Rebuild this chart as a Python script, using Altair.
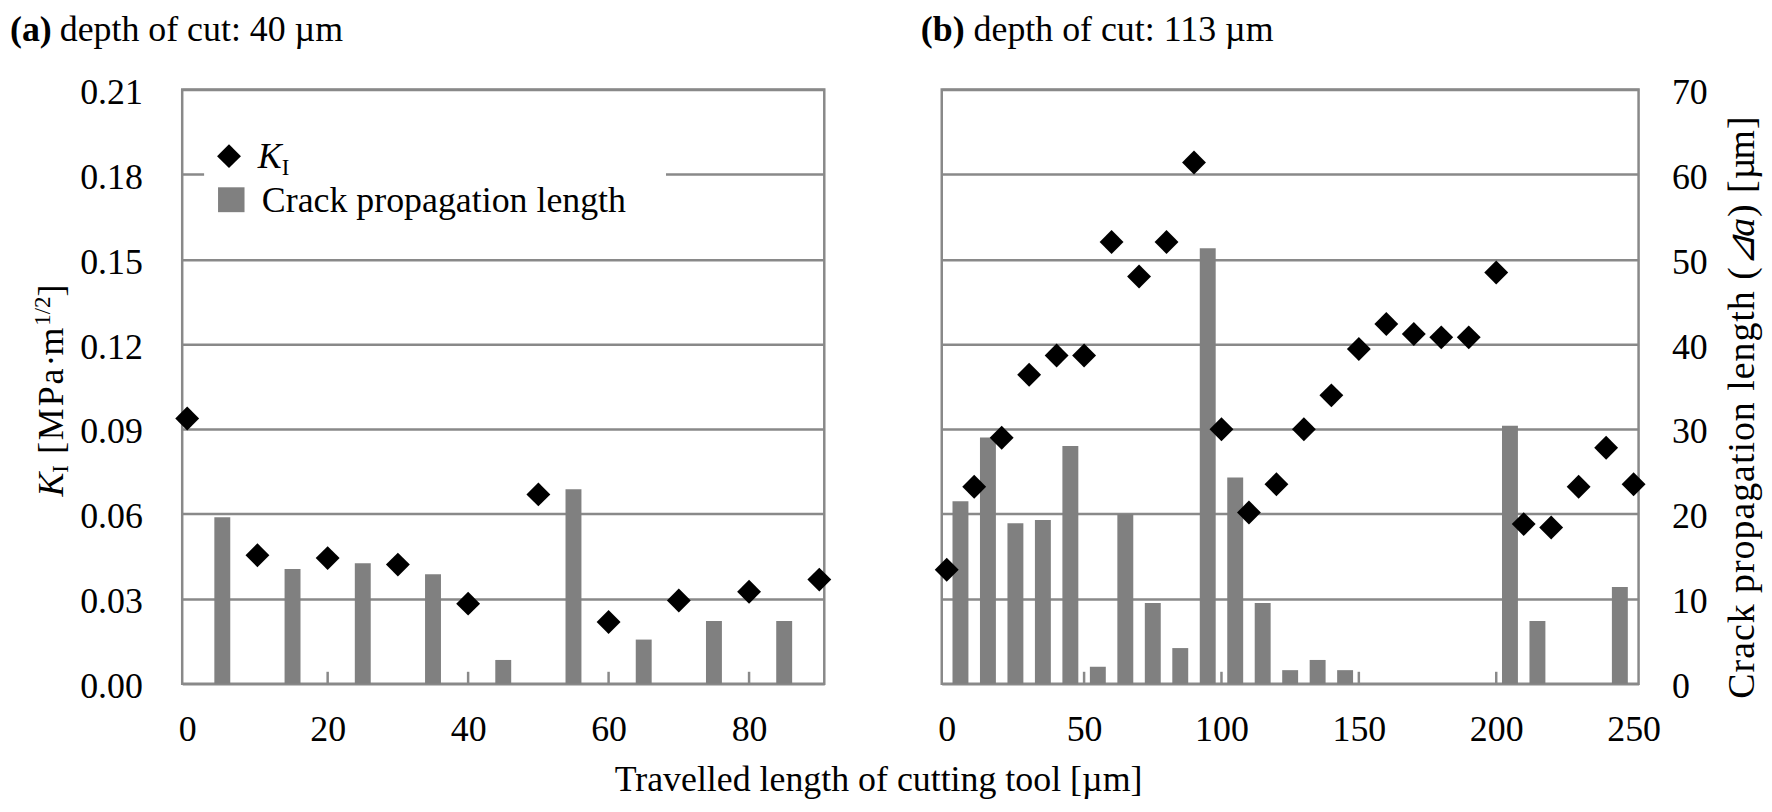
import altair as alt
import pandas as pd

# ---------------- data ----------------
left_k_x = [0, 10, 20, 30, 40, 50, 60, 70, 80, 90]
left_k = [0.0937, 0.0454, 0.0444, 0.0421, 0.0283, 0.0669, 0.0218, 0.0294, 0.0325, 0.0368]
left_bar_x = [5, 15, 25, 35, 45, 55, 65, 75, 85]
left_bar = [19.6, 13.5, 14.2, 12.9, 2.8, 22.9, 5.2, 7.4, 7.4]

right_k_x = [0, 10, 20, 30, 40, 50, 60, 70, 80, 90, 100, 110, 120, 130, 140, 150,
             160, 170, 180, 190, 200, 210, 220, 230, 240, 250]
right_k = [0.0403, 0.0696, 0.0869, 0.1092, 0.1160, 0.1160, 0.1561, 0.1439, 0.1561, 0.1842,
           0.0899, 0.0605, 0.0705, 0.0899, 0.1019, 0.1183, 0.1271, 0.1236, 0.1224, 0.1224,
           0.1453, 0.0564, 0.0552, 0.0696, 0.0834, 0.0705]
right_bar_x = [5, 15, 25, 35, 45, 55, 65, 75, 85, 95, 105, 115, 125, 135, 145, 205, 215, 245]
right_bar = [21.5, 29.0, 18.9, 19.3, 28.0, 2.0, 20.0, 9.5, 4.2, 51.3, 24.3, 9.5, 1.6, 2.8, 1.6,
             30.4, 7.4, 11.4]

left_x_ticks = [0, 20, 40, 60, 80]
right_x_ticks = [0, 50, 100, 150, 200, 250]
left_inner_ticks = [20, 40, 60, 80]
right_inner_ticks = [50, 100, 150, 200]
k_ticks = [0.00, 0.03, 0.06, 0.09, 0.12, 0.15, 0.18, 0.21]
crack_ticks = [0, 10, 20, 30, 40, 50, 60, 70]

# ---------------- style / layout ----------------
FONT = "Liberation Serif"
LINE = "#898989"
BAR = "#808080"
W1, W2, H, GAP = 645, 700, 597, 118
ONE = pd.DataFrame({"_": [0]})

W_REG = {' ': 0.25, '[': 0.333, ']': 0.333, 'M': 0.889, 'P': 0.556, 'a': 0.444, '·': 0.25,
         'm': 0.778, '1': 0.5, '/': 0.278, '2': 0.5, 'I': 0.333, '(': 0.333, ')': 0.333,
         'C': 0.667, 'r': 0.333, 'c': 0.444, 'k': 0.5, 'p': 0.5, 'o': 0.5, 'g': 0.5,
         't': 0.278, 'i': 0.278, 'n': 0.5, 'l': 0.278, 'e': 0.444, 'h': 0.5, 'µ': 0.5, '⊿': 0.75}
W_IT = {'K': 0.667, 'a': 0.5, '⊿': 0.75}


def tw(s, size, style):
    tab = W_IT if style == "italic" else W_REG
    return sum(tab.get(ch, 0.5) for ch in s) * size


def txt(s, x, y, size=36, style="normal", weight="normal", angle=0, align="left"):
    return alt.Chart(ONE).mark_text(
        text=s, font=FONT, fontSize=size, fontStyle=style, fontWeight=weight,
        angle=angle, align=align, baseline="alphabetic", color="black"
    ).encode(x=alt.value(x), y=alt.value(y))


def vtext(pieces, x0, y0):
    out = []
    y = y0
    for s, size, style, dx, ls in pieces:
        if ls:
            for ch in s:
                if ch != ' ':
                    out.append(txt(ch, x0 + dx, y, size, style, angle=270))
                y -= tw(ch, size, style) + ls
        else:
            out.append(txt(s, x0 + dx, y, size, style, angle=270))
            y -= tw(s, size, style)
    return out


def xaxis(vals):
    return alt.Axis(values=vals, title=None, labelFontSize=36, labelFont=FONT, labelColor="black",
                    labelPadding=57, labelBaseline="alphabetic", ticks=False, tickSize=0,
                    domain=False, grid=False, labelFlush=False, labelOverlap=False)


def kaxis(labels=True):
    return alt.Axis(values=k_ticks, format=".2f", title=None, labelFontSize=36, labelFont=FONT,
                    labelColor="black", labelPadding=40, labelOffset=3, labels=labels,
                    ticks=False, tickSize=0, domain=False, grid=True, gridColor=LINE,
                    gridWidth=2.5, labelFlush=False, labelOverlap=False)


crack_axis = alt.Axis(orient="right", values=crack_ticks, format="d", title=None, labelFontSize=36,
                      labelFont=FONT, labelColor="black", labelPadding=33, labelOffset=3,
                      ticks=False, tickSize=0, domain=False, grid=False, labelFlush=False,
                      labelOverlap=False)

k_scale = alt.Scale(domain=[0, 0.21], nice=False, zero=True)
c_scale = alt.Scale(domain=[0, 70], nice=False, zero=True)


def panel(kx, kv, bx, bv, xdom, xticks, inner, right_axis):
    xs = alt.Scale(domain=xdom, nice=False, zero=True)
    ax = xaxis(xticks)
    bars = alt.Chart(pd.DataFrame({"x": bx, "crack": bv})).mark_bar(size=16, color=BAR).encode(
        x=alt.X("x:Q", scale=xs, axis=ax),
        y=alt.Y("crack:Q", scale=c_scale, axis=crack_axis if right_axis else None),
    )
    pts = alt.Chart(pd.DataFrame({"x": kx, "k": kv})).mark_point(
        shape="diamond", filled=True, size=576, color="black", opacity=1, strokeWidth=0
    ).encode(
        x=alt.X("x:Q", scale=xs, axis=ax),
        y=alt.Y("k:Q", scale=k_scale, axis=kaxis(labels=not right_axis)),
    )
    ticks = alt.Chart(pd.DataFrame({"t": inner})).mark_rule(color=LINE, strokeWidth=2.5).encode(
        x=alt.X("t:Q", scale=xs, axis=ax),
        y=alt.value(H - 12), y2=alt.value(H),
    )
    return [ticks, bars, pts]


# ---------------- left panel ----------------
left_layers = panel(left_k_x, left_k, left_bar_x, left_bar, [0, 90], left_x_ticks,
                    left_inner_ticks, False)
legend = [
    alt.Chart(ONE).mark_rect(color="white").encode(
        x=alt.value(22), x2=alt.value(486), y=alt.value(45), y2=alt.value(138)),
    alt.Chart(ONE).mark_point(shape="diamond", filled=True, size=576, color="black",
                              opacity=1, strokeWidth=0).encode(x=alt.value(47), y=alt.value(67)),
    txt("K", 76, 79, 36, "italic"),
    txt("I", 100, 86, 23),
    alt.Chart(ONE).mark_rect(color=BAR).encode(
        x=alt.value(36), x2=alt.value(62.6), y=alt.value(98.3), y2=alt.value(123.3)),
    txt("Crack propagation length", 80, 123, 36),
]
left_titles = [
    txt("(a)", -173, -49, 36, weight="bold"),
    txt("depth of cut: 40 µm", -123, -49, 36),
    txt("Travelled length of cutting tool [µm]", 699.5, 705, 36, align="center"),
]
left_ytitle = vtext([("K", 36, "italic", 0, 0), ("I", 23, "normal", 5, 0),
                     (" [MPa·m", 36, "normal", 0, 2), ("1/2", 23, "normal", -13, 0),
                     ("]", 36, "normal", 0, 0)], -120, 409)

left = alt.layer(*left_layers, *legend, *left_titles, *left_ytitle).resolve_scale(
    y="independent").properties(width=W1, height=H)

# ---------------- right panel ----------------
right_layers = panel(right_k_x, right_k, right_bar_x, right_bar, [0, 250], right_x_ticks,
                     right_inner_ticks, True)
right_titles = [
    txt("(b)", -21, -49, 36, weight="bold"),
    txt("depth of cut: 113 µm", 32, -49, 36),
]
right_ytitle = vtext([("Crack propagation length (", 38, "normal", 0, 1),
                      ("⊿a", 38, "italic", 0, 1),
                      (") [µm]", 38, "normal", 0, 1)], 816, 612)

right = alt.layer(*right_layers, *right_titles, *right_ytitle).resolve_scale(
    y="independent").properties(width=W2, height=H)

chart = alt.hconcat(left, right, spacing=GAP, bounds="flush").properties(
    padding=0
).configure_view(stroke=LINE, strokeWidth=2.5).configure_axis(labelFont=FONT)

chart.save("out.html", embed_options={"renderer": "svg", "actions": False})
